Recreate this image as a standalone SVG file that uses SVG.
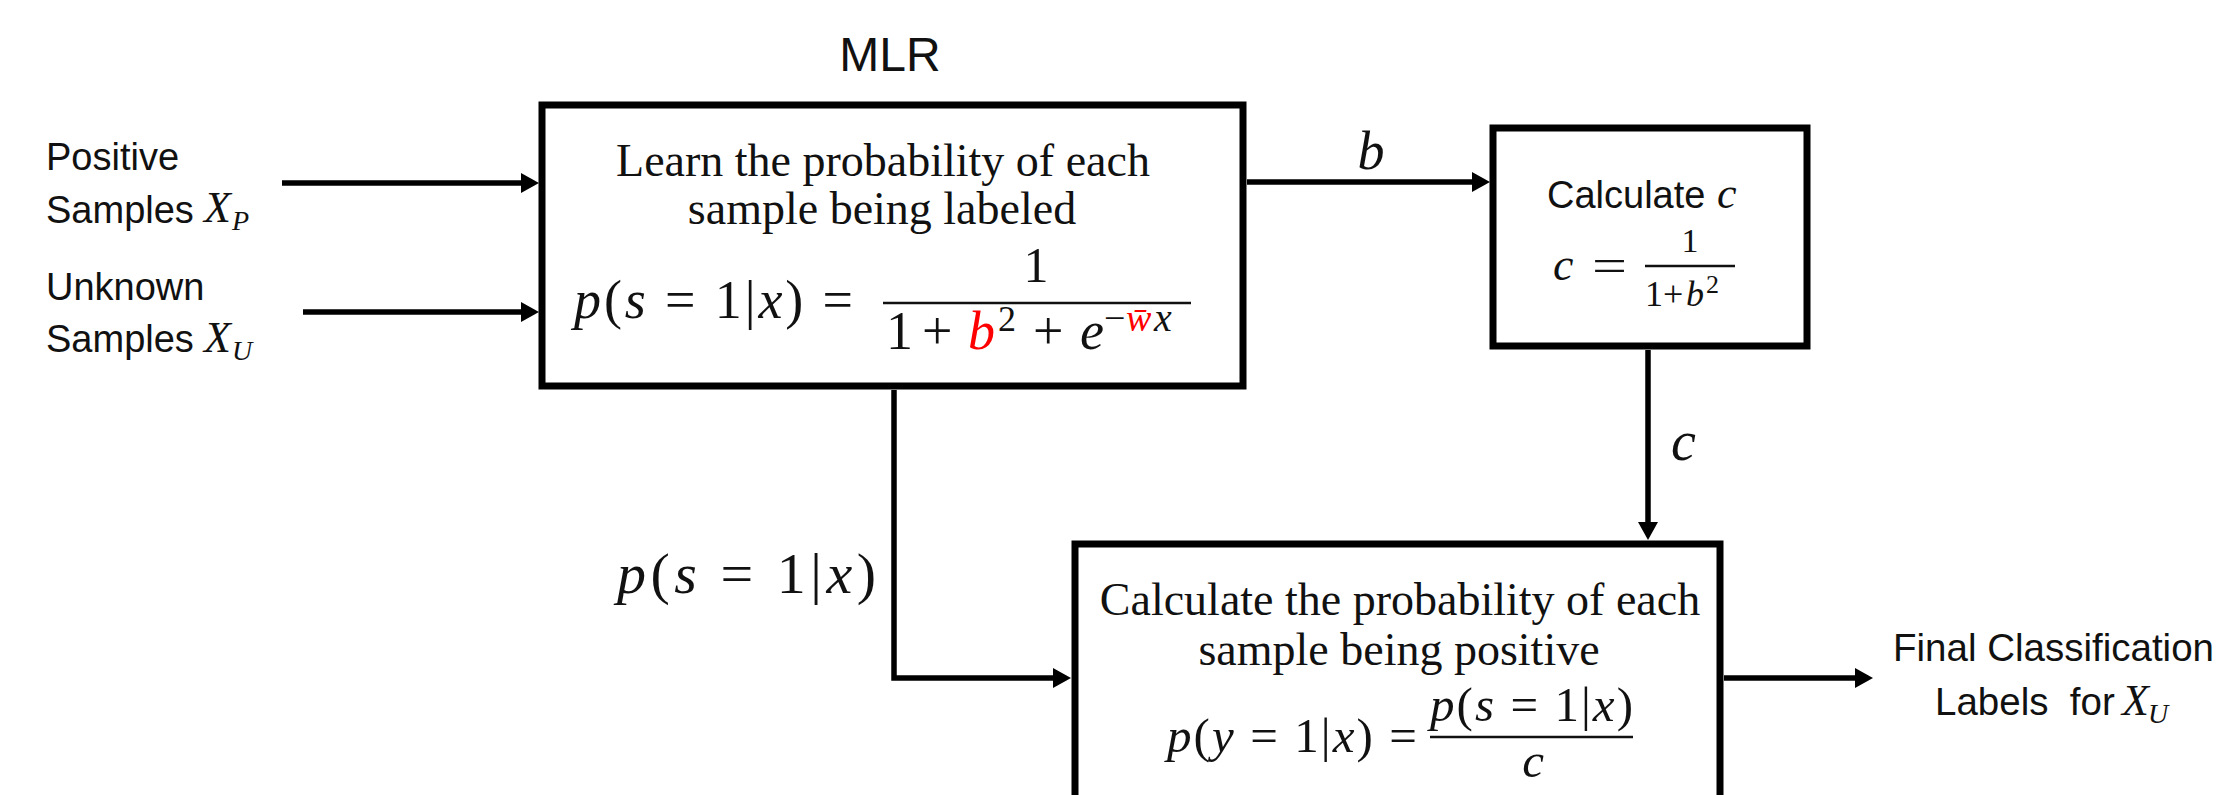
<svg xmlns="http://www.w3.org/2000/svg" width="2221" height="795" viewBox="0 0 2221 795">
<defs>
<style>
.sans{font-family:"Liberation Sans",Arial,sans-serif;fill:#111}
.serif{font-family:"Liberation Serif","Times New Roman",serif;fill:#111}
.mi{font-style:italic}
.red{fill:#ff0000}
.box{fill:#fff;stroke:#000;stroke-width:7;stroke-linejoin:miter}
.conn{fill:none;stroke:#000;stroke-width:5.5}
.bar{stroke:#111;stroke-width:2.5}
</style>
<marker id="ah" markerUnits="userSpaceOnUse" markerWidth="18" markerHeight="20" refX="6" refY="10" orient="auto" viewBox="0 0 18 20"><path d="M0,0 L18,10 L0,20 z" fill="#000"/></marker>
</defs>
<rect width="2221" height="795" fill="#fff"/>

<g id="connectors">
<path class="conn" d="M282,183 H527" marker-end="url(#ah)"/>
<path class="conn" d="M303,312 H527" marker-end="url(#ah)"/>
<path class="conn" d="M1247,182 H1478" marker-end="url(#ah)"/>
<path class="conn" d="M1648,350 V528" marker-end="url(#ah)"/>
<path class="conn" d="M894,390 V678 H1059" marker-end="url(#ah)"/>
<path class="conn" d="M1724,678 H1861" marker-end="url(#ah)"/>
<text class="serif mi" x="1371" y="169" font-size="54" text-anchor="middle">b</text>
<text class="serif mi" x="1671" y="460" font-size="56">c</text>
<text class="serif" x="617" y="593" font-size="58" textLength="259" lengthAdjust="spacing"><tspan class="mi">p</tspan>(<tspan class="mi">s</tspan> = 1|<tspan class="mi">x</tspan>)</text>
</g>

<g id="input-positive">
<text class="sans" x="46" y="170" font-size="38">Positive</text>
<text class="sans" x="46" y="223" font-size="38">Samples</text>
<text class="serif mi" x="204" y="222" font-size="44">X</text>
<text class="serif mi" x="232" y="230" font-size="28">P</text>
</g>

<g id="input-unknown">
<text class="sans" x="46" y="300" font-size="38">Unknown</text>
<text class="sans" x="46" y="352" font-size="38">Samples</text>
<text class="serif mi" x="204" y="352" font-size="44">X</text>
<text class="serif mi" x="232" y="360" font-size="28">U</text>
</g>

<g id="mlr">
<text class="sans" x="890" y="71" font-size="48" text-anchor="middle">MLR</text>
<rect class="box" x="542" y="105" width="701" height="281"/>
<text class="serif" x="883" y="176" font-size="46" text-anchor="middle">Learn the probability of each</text>
<text class="serif" x="882" y="224" font-size="46" text-anchor="middle">sample being labeled</text>
<text class="serif" x="574" y="318" font-size="54" textLength="279" lengthAdjust="spacing"><tspan class="mi">p</tspan>(<tspan class="mi">s</tspan> = 1|<tspan class="mi">x</tspan>) =</text>
<text class="serif" x="1036" y="282" font-size="50" text-anchor="middle">1</text>
<line class="bar" x1="883" y1="303" x2="1191" y2="303"/>
<text class="serif" y="349" font-size="54"><tspan x="886">1</tspan><tspan x="922">+</tspan><tspan x="968" class="mi red">b</tspan><tspan x="998" y="331" font-size="36">2</tspan><tspan x="1033" y="349" font-size="54">+</tspan><tspan x="1080" class="mi" font-size="54">e</tspan><tspan x="1104" y="331" font-size="38">−</tspan><tspan x="1126" class="mi red" font-size="38">w̄</tspan><tspan x="1154" class="mi" font-size="40">x</tspan></text>
</g>

<g id="calc-c">
<rect class="box" x="1493" y="128" width="314" height="218"/>
<text class="sans" x="1547" y="208" font-size="38">Calculate</text>
<text class="serif mi" x="1717" y="208" font-size="44">c</text>
<text class="serif mi" x="1553" y="280" font-size="46">c</text>
<text class="serif" x="1592" y="281" font-size="46" textLength="35" lengthAdjust="spacingAndGlyphs">=</text>
<line class="bar" x1="1645" y1="266" x2="1735" y2="266"/>
<text class="serif" x="1690" y="252" font-size="34" text-anchor="middle">1</text>
<text class="serif" y="306" font-size="36"><tspan x="1645">1</tspan><tspan x="1663">+</tspan><tspan x="1686" class="mi">b</tspan><tspan x="1706" y="293" font-size="26">2</tspan></text>
</g>

<g id="calc-positive">
<rect class="box" x="1075" y="544" width="645" height="300"/>
<text class="serif" x="1400" y="615" font-size="46" text-anchor="middle">Calculate the probability of each</text>
<text class="serif" x="1399" y="665" font-size="46" text-anchor="middle">sample being positive</text>
<text class="serif" x="1167" y="752" font-size="49" textLength="250" lengthAdjust="spacing"><tspan class="mi">p</tspan>(<tspan class="mi">y</tspan> = 1|<tspan class="mi">x</tspan>) =</text>
<text class="serif" x="1430" y="721" font-size="49" textLength="203" lengthAdjust="spacing"><tspan class="mi">p</tspan>(<tspan class="mi">s</tspan> = 1|<tspan class="mi">x</tspan>)</text>
<line class="bar" x1="1430" y1="737" x2="1633" y2="737"/>
<text class="serif mi" x="1533" y="777" font-size="49" text-anchor="middle">c</text>
</g>

<g id="output-labels">
<text class="sans" x="1893" y="661" font-size="38.5">Final Classification</text>
<text class="sans" x="1935" y="715" font-size="38.5" xml:space="preserve" style="white-space:pre">Labels  for</text>
<text class="serif mi" x="2122" y="715" font-size="44">X</text>
<text class="serif mi" x="2148" y="723" font-size="28">U</text>
</g>
</svg>
